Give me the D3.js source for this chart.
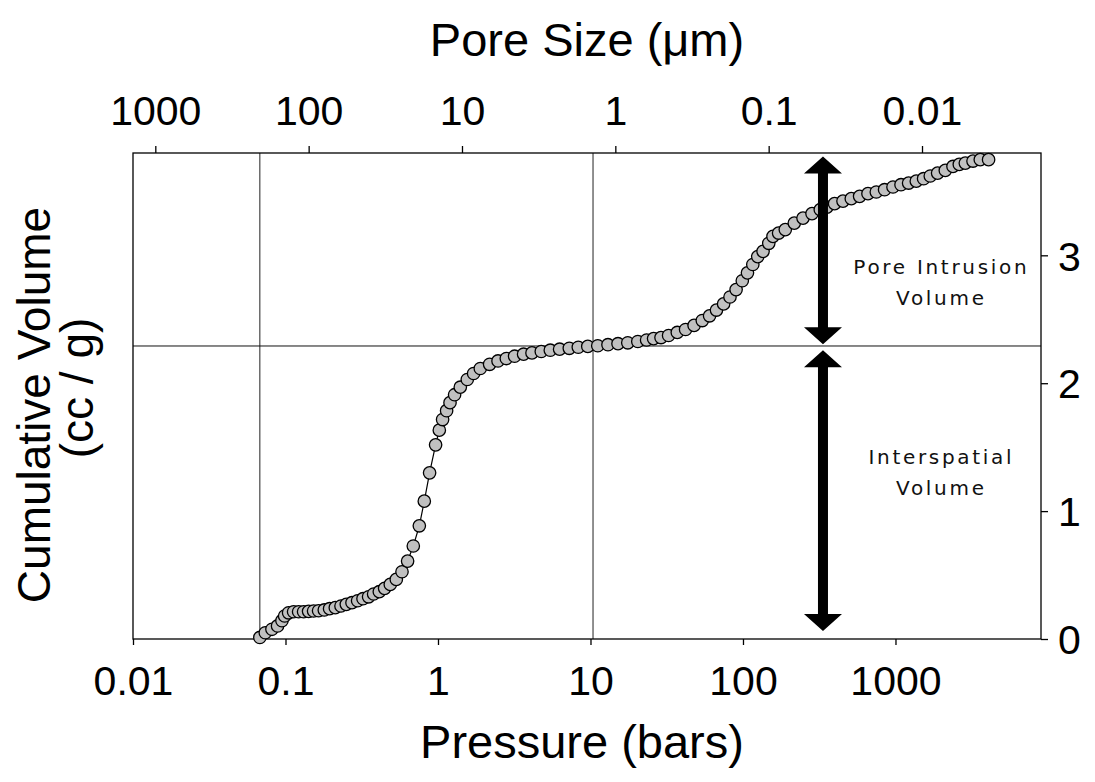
<!DOCTYPE html>
<html>
<head>
<meta charset="utf-8">
<script src="https://cdn.jsdelivr.net/npm/d3@7"></script>
<style>
  html, body { margin: 0; padding: 0; background: #fff; }
  svg { display: block; }
</style>
</head>
<body>
<svg id="chart" width="1095" height="782"></svg>
<script>
// ---------------- data ----------------
const pressure = [
  0.0679, 0.0737, 0.0815, 0.0887, 0.0948, 0.0987, 0.1048, 0.1130, 0.1219, 0.1314,
  0.1417, 0.1528, 0.1648, 0.1796, 0.1946, 0.2121, 0.2311, 0.2504, 0.2729, 0.2971,
  0.3223, 0.3507, 0.3783, 0.4123, 0.4467, 0.4866, 0.5328, 0.5807, 0.6320, 0.6887,
  0.7543, 0.8131, 0.8809, 0.9645, 1.020, 1.072, 1.139, 1.199, 1.285, 1.400,
  1.556, 1.712, 1.894, 2.180, 2.475, 2.805, 3.179, 3.641, 4.134, 4.757,
  5.450, 6.272, 7.261, 8.318, 9.600, 11.16, 13.02, 15.15, 17.56, 20.43,
  23.33, 25.93, 29.00, 32.52, 37.09, 42.03, 47.79, 54.09, 60.39, 67.02,
  74.64, 82.17, 90.12, 98.95, 107.0, 116.0, 125.0, 135.4, 147.6, 157.3,
  171.2, 189.4, 217.0, 247.5, 283.5, 321.3, 355.4, 398.8, 452.6, 513.2,
  581.8, 660.0, 748.4, 848.3, 962.9, 1087, 1219, 1369, 1529, 1691,
  1889, 2122, 2383, 2621, 2870, 3223, 3598, 4079
];
const volume = [
  0.012, 0.049, 0.076, 0.102, 0.143, 0.180, 0.205, 0.213, 0.213, 0.213,
  0.216, 0.219, 0.221, 0.227, 0.237, 0.245, 0.258, 0.271, 0.284, 0.299,
  0.315, 0.330, 0.352, 0.370, 0.396, 0.427, 0.466, 0.526, 0.609, 0.727,
  0.885, 1.078, 1.299, 1.518, 1.633, 1.716, 1.785, 1.848, 1.910, 1.969,
  2.029, 2.076, 2.115, 2.148, 2.174, 2.193, 2.211, 2.227, 2.237, 2.248,
  2.258, 2.266, 2.273, 2.281, 2.288, 2.293, 2.301, 2.309, 2.316, 2.326,
  2.338, 2.349, 2.357, 2.373, 2.397, 2.420, 2.452, 2.490, 2.527, 2.572,
  2.620, 2.674, 2.732, 2.801, 2.863, 2.928, 2.990, 3.031, 3.094, 3.148,
  3.174, 3.201, 3.252, 3.291, 3.326, 3.357, 3.377, 3.404, 3.424, 3.443,
  3.461, 3.482, 3.495, 3.513, 3.534, 3.552, 3.565, 3.580, 3.599, 3.620,
  3.643, 3.664, 3.695, 3.711, 3.721, 3.737, 3.748, 3.748
];

const pressureDomain = [0.01, 9000];
const poreDomain = [1398, 0.001675];
const volumeDomain = [0, 3.8];

const bottomTicks = [0.01, 0.1, 1, 10, 100, 1000];
const bottomTickLabels = ["0.01", "0.1", "1", "10", "100", "1000"];
const topTicks = [1000, 100, 10, 1, 0.1, 0.01];
const topTickLabels = ["1000", "100", "10", "1", "0.1", "0.01"];
const rightTicks = [0, 1, 2, 3];
const rightTickLabels = ["0", "1", "2", "3"];

const refPressures = [0.0679, 10.39];   // vertical reference lines
const refVolumes = [2.291];             // horizontal reference line

const arrowPressure = 334.6;
const arrowSpans = [[3.773, 2.305], [2.258, 0.0625]];

const annotations = [
  { lines: ["Pore Intrusion", "Volume"], pressure: 2000, volume: 2.855 },
  { lines: ["Interspatial", "Volume"], pressure: 2000, volume: 1.37 }
];

const titleTop = "Pore Size (\u03bcm)";
const titleBottom = "Pressure (bars)";
const titleLeft = ["Cumulative Volume", "(cc / g)"];

// ---------------- layout ----------------
const L = 133, R = 1041, T = 153, B = 639;
const svg = d3.select("#chart");

const x = d3.scaleLog().domain(pressureDomain).range([L, R]);
const xTop = d3.scaleLog().domain(poreDomain).range([L, R]);
const y = d3.scaleLinear().domain(volumeDomain).range([B, T]);

const font = "'Liberation Sans', Arial, sans-serif";

// reference lines
svg.append("g").selectAll("line.v").data(refPressures).join("line")
  .attr("x1", d => x(d)).attr("x2", d => x(d))
  .attr("y1", T).attr("y2", B)
  .attr("stroke", "#222").attr("stroke-width", 1);
svg.append("g").selectAll("line.h").data(refVolumes).join("line")
  .attr("x1", L).attr("x2", R)
  .attr("y1", d => y(d)).attr("y2", d => y(d))
  .attr("stroke", "#111").attr("stroke-width", 1);

// frame
svg.append("rect").attr("x", L).attr("y", T).attr("width", R - L).attr("height", B - T)
  .attr("fill", "none").attr("stroke", "#000").attr("stroke-width", 1.3);

// axes
const axBottom = d3.axisBottom(x).tickValues(bottomTicks)
  .tickFormat((d, i) => bottomTickLabels[i]).tickSize(6).tickSizeOuter(0);
const gB = svg.append("g").attr("transform", `translate(0,${B})`).call(axBottom);

const axTop = d3.axisTop(xTop).tickValues(topTicks)
  .tickFormat((d, i) => topTickLabels[i]).tickSize(7).tickSizeOuter(0);
const gT = svg.append("g").attr("transform", `translate(0,${T})`).call(axTop);

const axRight = d3.axisRight(y).tickValues(rightTicks)
  .tickFormat((d, i) => rightTickLabels[i]).tickSize(7).tickSizeOuter(0);
const gR = svg.append("g").attr("transform", `translate(${R},0)`).call(axRight);

[gB, gT, gR].forEach(g => {
  g.select(".domain").remove();
  g.selectAll(".tick line").attr("stroke", "#000").attr("stroke-width", 1.3);
  g.selectAll(".tick text").attr("fill", "#000")
    .style("font-family", font).style("font-size", "41px");
});
gB.selectAll(".tick text").attr("dy", null).attr("y", 56);
gT.selectAll(".tick text").attr("y", -28);
gR.selectAll(".tick text").attr("x", 17).attr("dy", "0.36em");

// curve
svg.append("path").datum(pressure.map((p, i) => [p, volume[i]]))
  .attr("fill", "none").attr("stroke", "#000").attr("stroke-width", 1.2)
  .attr("d", d3.line().x(d => x(d[0])).y(d => y(d[1])));

svg.append("g").selectAll("circle").data(pressure.map((p, i) => [p, volume[i]])).join("circle")
  .attr("cx", d => x(d[0])).attr("cy", d => y(d[1])).attr("r", 6.2)
  .attr("fill", "#c0c0c0").attr("stroke", "#000").attr("stroke-width", 1.3);

// arrows
function arrowPath(xc, y1, y2) {
  const shaft = 5, head = 19, hl = 17;
  const top = Math.min(y1, y2), bot = Math.max(y1, y2);
  return [
    [xc, top], [xc + head, top + hl], [xc + shaft, top + hl],
    [xc + shaft, bot - hl], [xc + head, bot - hl], [xc, bot],
    [xc - head, bot - hl], [xc - shaft, bot - hl], [xc - shaft, top + hl],
    [xc - head, top + hl]
  ].map(p => p.join(",")).join(" ");
}
svg.append("g").selectAll("polygon").data(arrowSpans).join("polygon")
  .attr("points", d => arrowPath(x(arrowPressure), y(d[0]), y(d[1])))
  .attr("fill", "#000");

// annotations
annotations.forEach(a => {
  const t = svg.append("text")
    .attr("x", x(a.pressure)).attr("y", y(a.volume))
    .attr("text-anchor", "middle")
    .style("font-family", "'DejaVu Sans', Verdana, sans-serif")
    .style("font-size", "20px").style("letter-spacing", "2.7px")
    .attr("fill", "#111");
  a.lines.forEach((ln, i) => {
    t.append("tspan").attr("x", x(a.pressure)).attr("dy", i === 0 ? 0 : 31).text(ln);
  });
});

// titles
svg.append("text").attr("x", 587).attr("y", 56).attr("text-anchor", "middle")
  .style("font-family", font).style("font-size", "47px").text(titleTop);
svg.append("text").attr("x", 582).attr("y", 758).attr("text-anchor", "middle")
  .style("font-family", font).style("font-size", "47px").text(titleBottom);
svg.append("text").attr("transform", "translate(50,405) rotate(-90)")
  .attr("text-anchor", "middle")
  .style("font-family", font).style("font-size", "46px").text(titleLeft[0]);
svg.append("text").attr("transform", "translate(93,388) rotate(-90)")
  .attr("text-anchor", "middle")
  .style("font-family", font).style("font-size", "46px").text(titleLeft[1]);
</script>
</body>
</html>
